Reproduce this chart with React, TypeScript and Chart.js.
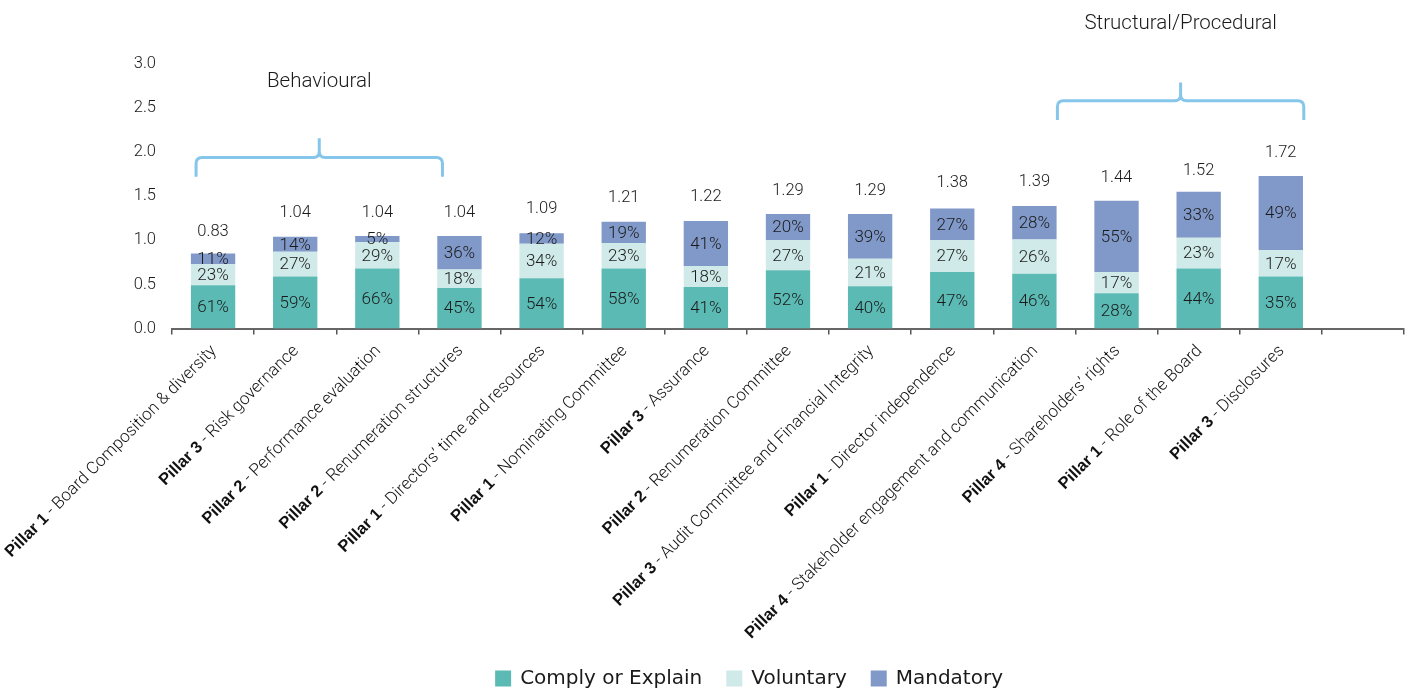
import React, { useEffect, useRef } from "react";
import { Chart, registerables } from "chart.js";

Chart.register(...registerables);

// ---------- DATA ----------
const pillars = [
  "Pillar 1", "Pillar 3", "Pillar 2", "Pillar 2", "Pillar 1", "Pillar 1", "Pillar 3",
  "Pillar 2", "Pillar 3", "Pillar 1", "Pillar 4", "Pillar 4", "Pillar 1", "Pillar 3", "",
];
const topics = [
  "Board Composition & diversity", "Risk governance", "Performance evaluation",
  "Renumeration structures", "Directors’ time and resources", "Nominating Committee",
  "Assurance", "Renumeration Committee", "Audit Committee and Financial Integrity",
  "Director independence", "Stakeholder engagement and communication",
  "Shareholders’ rights", "Role of the Board", "Disclosures", "",
];

const complyValues = [0.49, 0.59, 0.68, 0.46, 0.57, 0.68, 0.47, 0.66, 0.48, 0.64, 0.62, 0.40, 0.68, 0.59, null];
const voluntaryValues = [0.24, 0.28, 0.30, 0.21, 0.39, 0.29, 0.24, 0.34, 0.31, 0.36, 0.39, 0.24, 0.35, 0.30, null];
const mandatoryValues = [0.12, 0.17, 0.07, 0.38, 0.12, 0.24, 0.51, 0.30, 0.51, 0.36, 0.38, 0.81, 0.52, 0.84, null];

const complyPct = [61, 59, 66, 45, 54, 58, 41, 52, 40, 47, 46, 28, 44, 35, null];
const voluntaryPct = [23, 27, 29, 18, 34, 23, 18, 27, 21, 27, 26, 17, 23, 17, null];
const mandatoryPct = [11, 14, 5, 36, 12, 19, 41, 20, 39, 27, 28, 55, 33, 49, null];

const totalLabels = ["0.83", "1.04", "1.04", "1.04", "1.09", "1.21", "1.22", "1.29", "1.29", "1.38", "1.39", "1.44", "1.52", "1.72", ""];

const seriesNames = ["Comply or Explain", "Voluntary", "Mandatory"];
const groupTitles = ["Behavioural", "Structural/Procedural"];
const groupFirst = [0, 10];
const groupLast = [3, 13];

const yTicks = [0, 0.5, 1, 1.5, 2, 2.5, 3];

// ---------- STYLE ----------
const COLORS = ["#5bbab4", "#cfeae8", "#8199c8"];
const TEXT = "#1a1a1a";
const LIGHT_FONT = "Roboto";
const BOLD_FONT = "'Liberation Sans', Arial, sans-serif";
const LEGEND_FONT = "'DejaVu Sans', sans-serif";
const BRACKET_COLOR = "#86c6ea";
const TOTAL_LIFT = 0.27; // data units above the total value
const BRACKETS = [
  { shift: -17, end: 1.72, level: 1.94, peak: 2.157, title: 2.8 },
  { shift: 23, end: 2.364, level: 2.583, peak: 2.79, title: 3.45 },
];

const pctSeries = [complyPct, voluntaryPct, mandatoryPct];

const annotPlugin = {
  id: "annot",
  afterDatasetsDraw(chart: any) {
    const { ctx } = chart;
    const xs = chart.scales.x;
    const ys = chart.scales.y;
    ctx.save();
    ctx.fillStyle = TEXT;
    ctx.textAlign = "center";
    ctx.textBaseline = "middle";
    ctx.font = `300 17px ${LIGHT_FONT}`;
    // percentage labels inside segments
    chart.data.datasets.forEach((_: any, di: number) => {
      const meta = chart.getDatasetMeta(di);
      const pcts = pctSeries[di];
      meta.data.forEach((bar: any, i: number) => {
        if (pcts[i] == null) return;
        const p = bar.getProps(["x", "y", "base"], true);
        ctx.fillText(pcts[i] + "%", p.x, (p.y + p.base) / 2 + 1);
      });
    });
    // totals
    ctx.font = `300 16.5px ${LIGHT_FONT}`;
    totalLabels.forEach((t, i) => {
      if (!t) return;
      const px = xs.getPixelForValue(i);
      const py = ys.getPixelForValue(parseFloat(t) + TOTAL_LIFT);
      ctx.fillText(t, px, py);
    });
    ctx.restore();
  },
  afterDraw(chart: any) {
    const { ctx } = chart;
    const xs = chart.scales.x;
    const ys = chart.scales.y;
    ctx.save();
    // rotated category labels: bold pillar + light topic
    const baseY = chart.chartArea.bottom + 20;
    pillars.forEach((pl, i) => {
      if (!pl) return;
      const cx = xs.getPixelForValue(i) + 1;
      ctx.save();
      ctx.translate(cx, baseY);
      ctx.rotate(-Math.PI / 4);
      ctx.textAlign = "right";
      ctx.textBaseline = "middle";
      ctx.fillStyle = "#111";
      const rest = " - " + topics[i];
      ctx.font = `300 17px ${LIGHT_FONT}`;
      const w = ctx.measureText(rest).width;
      ctx.fillText(rest, 0, 0);
      ctx.font = `bold 16.5px ${BOLD_FONT}`;
      ctx.fillText(pl, -w, 0);
      ctx.restore();
    });
    // brackets and group titles
    BRACKETS.forEach((b, gi) => {
      const L = xs.getPixelForValue(groupFirst[gi]) + b.shift;
      const R = xs.getPixelForValue(groupLast[gi]) + b.shift;
      const C = (L + R) / 2;
      const yE = ys.getPixelForValue(b.end);
      const yL = ys.getPixelForValue(b.level);
      const yP = ys.getPixelForValue(b.peak);
      const r = 6;
      ctx.strokeStyle = BRACKET_COLOR;
      ctx.lineWidth = 3;
      ctx.lineCap = "butt";
      ctx.lineJoin = "round";
      ctx.beginPath();
      ctx.moveTo(L, yE);
      ctx.lineTo(L, yL + r);
      ctx.quadraticCurveTo(L, yL, L + r, yL);
      ctx.lineTo(C - r, yL);
      ctx.quadraticCurveTo(C, yL, C, yL - r);
      ctx.lineTo(C, yP);
      ctx.moveTo(C, yL - r);
      ctx.quadraticCurveTo(C, yL, C + r, yL);
      ctx.lineTo(R - r, yL);
      ctx.quadraticCurveTo(R, yL, R, yL + r);
      ctx.lineTo(R, yE);
      ctx.stroke();
      ctx.fillStyle = TEXT;
      ctx.font = `300 20.5px ${LIGHT_FONT}`;
      ctx.textAlign = "center";
      ctx.textBaseline = "middle";
      ctx.fillText(groupTitles[gi], C, ys.getPixelForValue(b.title));
    });
    // legend
    ctx.font = `20px ${LEGEND_FONT}`;
    ctx.textAlign = "left";
    ctx.textBaseline = "middle";
    const box = 16, gap = 9, spacing = 24;
    let total = 0;
    const widths = chart.data.datasets.map((d: any) => ctx.measureText(d.label).width);
    widths.forEach((w: number) => (total += box + gap + w));
    total += spacing * (widths.length - 1);
    let lx = 1003 - total;
    const ly = 679;
    chart.data.datasets.forEach((d: any, di: number) => {
      ctx.fillStyle = d.backgroundColor;
      ctx.fillRect(lx, ly - box / 2 - 0.5, box, box);
      ctx.fillStyle = TEXT;
      ctx.fillText(d.label, lx + box + gap, ly);
      lx += box + gap + widths[di] + spacing;
    });
    ctx.restore();
  },
};

const App = () => {
  const ref = useRef<HTMLCanvasElement>(null);
  useEffect(() => {
    const chart = new Chart(ref.current as HTMLCanvasElement, {
      type: "bar",
      data: {
        labels: pillars.map((p, i) => (p ? p + " - " + topics[i] : "")),
        datasets: [
          { label: seriesNames[0], data: complyValues, backgroundColor: COLORS[0] },
          { label: seriesNames[1], data: voluntaryValues, backgroundColor: COLORS[1] },
          { label: seriesNames[2], data: mandatoryValues, backgroundColor: COLORS[2] },
        ] as any,
      },
      options: {
        animation: false,
        responsive: true,
        maintainAspectRatio: false,
        layout: { padding: { top: 64, left: 0, right: 8, bottom: 0 } },
        datasets: { bar: { categoryPercentage: 1, barPercentage: 0.54 } },
        plugins: { legend: { display: false }, tooltip: { enabled: false } },
        scales: {
          x: {
            stacked: true,
            grid: { display: true, drawOnChartArea: false, offset: true, tickLength: 6, color: "#555", lineWidth: 1.5 },
            border: { display: true, color: "#666", width: 2 },
            ticks: { display: false },
            afterFit: (s: any) => { s.height = 691 - 328.5; },
          },
          y: {
            stacked: true,
            min: 0,
            max: 3,
            grid: { display: false },
            border: { display: false },
            afterBuildTicks: (s: any) => { s.ticks = yTicks.map((v) => ({ value: v })); },
            ticks: {
              color: TEXT,
              padding: 8,
              font: { family: LIGHT_FONT, size: 16.5, weight: "300" as any },
              callback: (v: any) => Number(v).toFixed(1),
            },
            afterFit: (s: any) => { s.width = 172; },
          },
        },
      },
      plugins: [annotPlugin],
    });
    return () => chart.destroy();
  }, []);
  return (
    <div style={{ position: "fixed", left: 0, top: 0, width: 1412, height: 691, background: "#fff" }}>
      <canvas ref={ref} />
    </div>
  );
};

export default App;
